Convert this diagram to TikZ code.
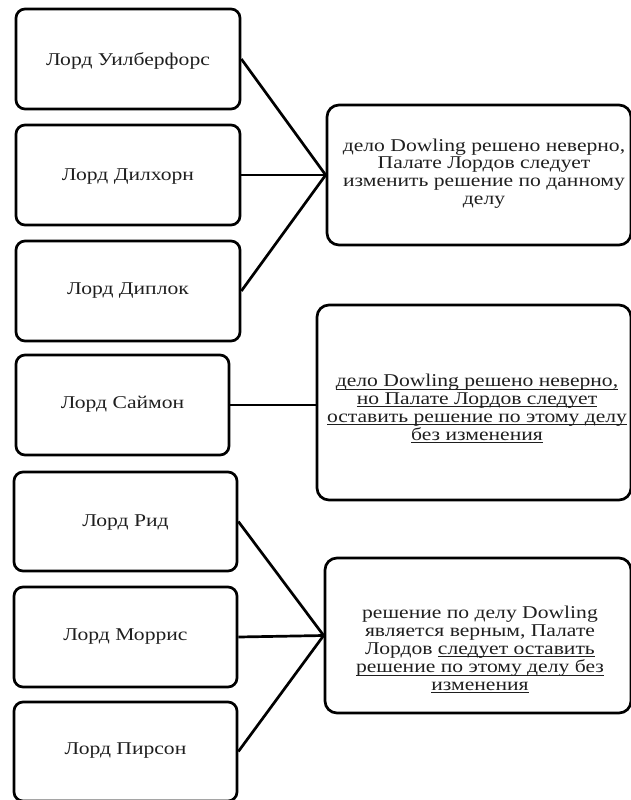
\documentclass[tikz,border=0pt]{standalone}
\usepackage{fontspec}
\setmainfont{Liberation Serif}
\usepackage{graphicx}
\newcommand\hsc{1.2}
\newcommand\txt[1]{\scalebox{\hsc}[1]{\begin{tabular}{@{}c@{}}#1\end{tabular}}}
\newcommand\myul[1]{\setbox0\hbox{#1}\rlap{\rule[-2.8pt]{\wd0}{0.8pt}}\box0}
\tikzset{
  lbox/.style={draw, line width=2.7pt, rounded corners=9pt, inner sep=0pt},
  rbox/.style={draw, line width=2.7pt, rounded corners=12pt, inner sep=0pt},
  conn/.style={line width=2.7pt},
  lbl/.style={inner sep=0pt, font=\fontsize{18}{17.7}\selectfont, text=black!88},
}
\begin{document}
\begin{tikzpicture}[x=1pt,y=-1pt]
\useasboundingbox (0,0) rectangle (631,800);
\clip (0,0) rectangle (631,800);
% left boxes
\node[lbox, minimum width=224pt, minimum height=100pt] (b1) at (128,59) {};
\node[lbox, minimum width=224pt, minimum height=100pt] (b2) at (128,175) {};
\node[lbox, minimum width=224pt, minimum height=100pt] (b3) at (128,291) {};
\node[lbox, minimum width=213pt, minimum height=100pt] (b4) at (122.5,405) {};
\node[lbox, minimum width=223pt, minimum height=99pt] (b5) at (125.5,521.5) {};
\node[lbox, minimum width=223pt, minimum height=100pt] (b6) at (125.5,637) {};
\node[lbox, minimum width=223pt, minimum height=99pt] (b7) at (125.5,751.5) {};
\node[lbl] (l1) at (128,62) {\txt{Лорд Уилберфорс}};
\node[lbl] (l2) at (128,177) {\txt{Лорд Дилхорн}};
\node[lbl] (l3) at (128,291) {\txt{Лорд Диплок}};
\node[lbl] (l4) at (122.5,405) {\txt{Лорд Саймон}};
\node[lbl] (l5) at (125.5,523) {\txt{Лорд Рид}};
\node[lbl] (l6) at (125.5,637) {\txt{Лорд Моррис}};
\node[lbl] (l7) at (125.5,751) {\txt{Лорд Пирсон}};
% right boxes
\node[rbox, minimum width=304pt, minimum height=140pt] (r1) at (479,175) {};
\node[rbox, minimum width=314pt, minimum height=195pt] (r2) at (474,402.5) {};
\node[rbox, minimum width=306pt, minimum height=155pt] (r3) at (478,635.5) {};
\node[lbl] (t1) at (484,174) {\txt{дело Dowling решено неверно,\\Палате Лордов следует\\изменить решение по данному\\делу}};
\node[lbl] (t2) at (477,410) {\txt{\myul{дело Dowling решено неверно,}\\\myul{но Палате Лордов следует}\\\myul{оставить решение по этому делу}\\\myul{без изменения}}};
\node[lbl] (t3) at (480,651) {\txt{решение по делу Dowling\\является верным, Палате\\Лордов \myul{следует оставить}\\\myul{решение по этому делу без}\\\myul{изменения}}};
% connectors
\draw[conn] (b1.east) -- (r1.west);
\draw[conn] (b2.east) -- (r1.west);
\draw[conn] (b3.east) -- (r1.west);
\draw[conn] (b4.east) -- (b4.east -| r2.west);
\draw[conn] (b5.east) -- (r3.west);
\draw[conn] (b6.east) -- (r3.west);
\draw[conn] (b7.east) -- (r3.west);
\end{tikzpicture}
\end{document}
